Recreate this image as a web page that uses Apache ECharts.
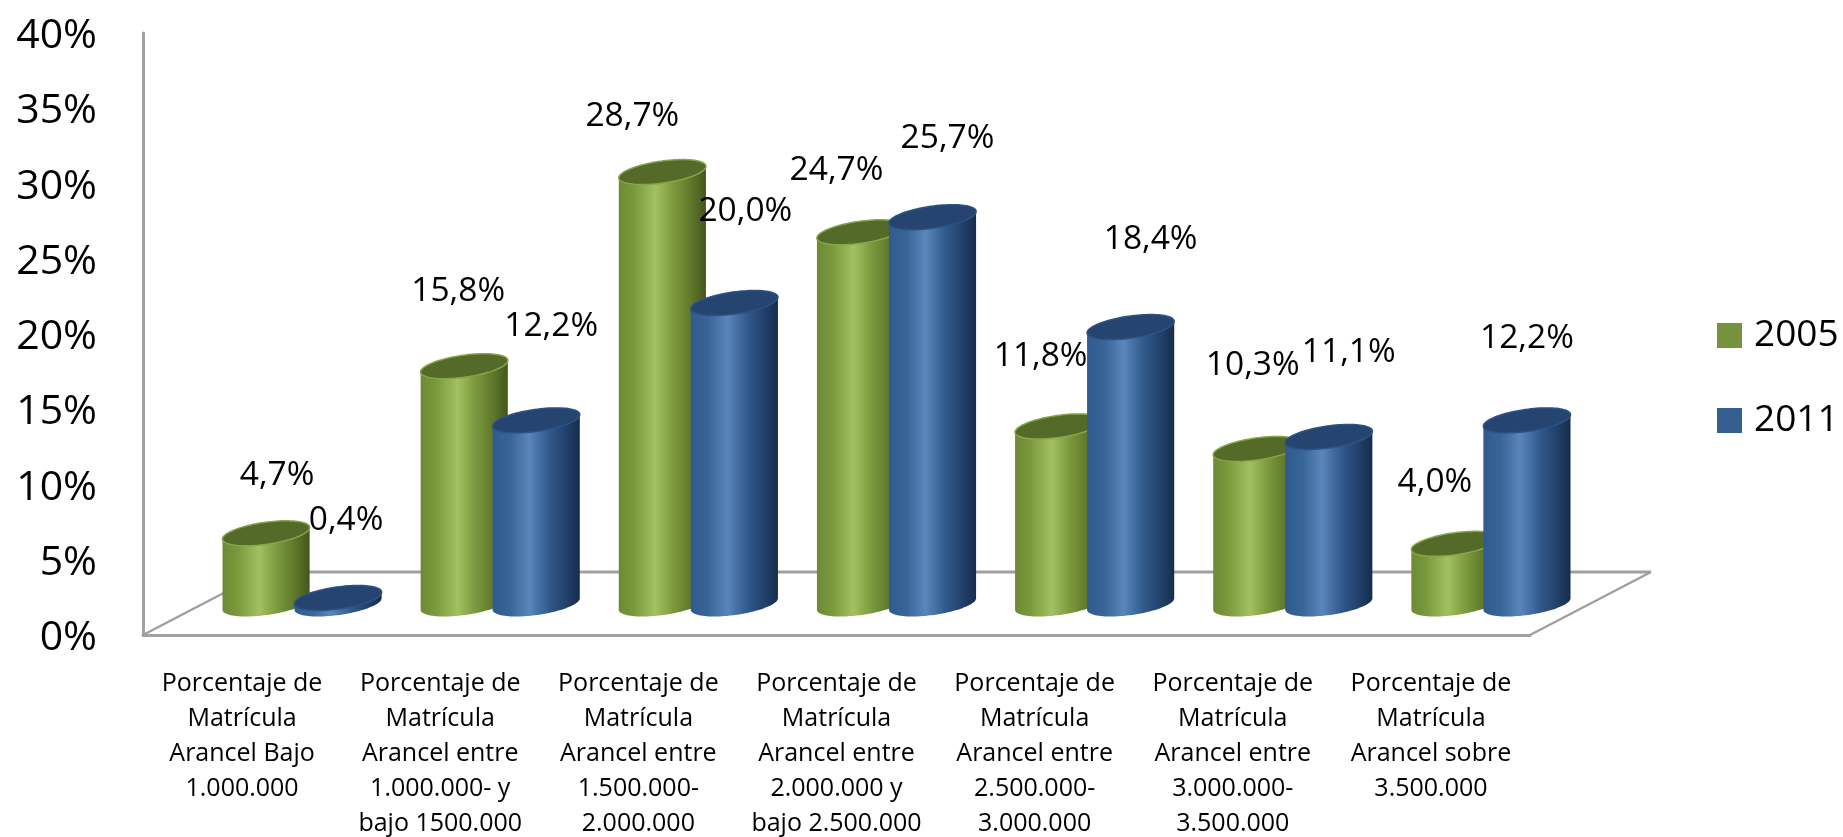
<!DOCTYPE html>
<html>
<head>
<meta charset="utf-8">
<style>html,body{margin:0;padding:0;background:#fff}#c{width:1843px;height:837px}</style>
<script src="https://cdn.jsdelivr.net/npm/echarts@6/dist/echarts.min.js"></script>
</head>
<body>
<div id="c"></div>
<script>
const categories = [
  "Porcentaje de\nMatrícula\nArancel Bajo\n1.000.000",
  "Porcentaje de\nMatrícula\nArancel entre\n1.000.000- y\nbajo 1500.000",
  "Porcentaje de\nMatrícula\nArancel entre\n1.500.000-\n2.000.000",
  "Porcentaje de\nMatrícula\nArancel entre\n2.000.000 y\nbajo 2.500.000",
  "Porcentaje de\nMatrícula\nArancel entre\n2.500.000-\n3.000.000",
  "Porcentaje de\nMatrícula\nArancel entre\n3.000.000-\n3.500.000",
  "Porcentaje de\nMatrícula\nArancel sobre\n3.500.000"
];
const values2005 = [4.7, 15.8, 28.7, 24.7, 11.8, 10.3, 4.0];
const values2011 = [0.4, 12.2, 20.0, 25.7, 18.4, 11.1, 12.2];
const labels2005 = ["4,7%", "15,8%", "28,7%", "24,7%", "11,8%", "10,3%", "4,0%"];
const labels2011 = ["0,4%", "12,2%", "20,0%", "25,7%", "18,4%", "11,1%", "12,2%"];

// Hand-placed data label offsets from the top of each cylinder, as in the source chart
const labelShift2005 = [[11,-60],[-6,-77],[-30,-58],[-24,-64],[-18,-72],[-4,-86],[-20,-64]];
const labelShift2011 = [[8,-80],[15,-96],[11,-94],[15,-81],[20,-90],[20,-87],[0,-84]];

const FONT = '"Open Sans", sans-serif';
const DEPTH_Y = 31, RX = 44, RY = 11, TILT = -0.14;
const grad = s => new echarts.graphic.LinearGradient(0, 0, 1, 0, s.map(([offset, color]) => ({offset, color})));

const styles = {
  green: {
    flat: '#76923c', shift: 24, top: '#546a28', rim: '#86a548',
    body: [[0,'#6d8a34'],[0.18,'#7a9a3d'],[0.42,'#a2c160'],[0.62,'#7c9b3e'],[0.85,'#5c7429'],[1,'#43561c']]
  },
  blue: {
    flat: '#365f91', shift: 96, top: '#254570', rim: '#2d5283',
    body: [[0,'#2f5b90'],[0.2,'#386496'],[0.42,'#5a86bc'],[0.65,'#31598b'],[0.85,'#21406a'],[1,'#172c4a']]
  }
};

function ellipse(cx, cy) {
  const pts = [];
  for (let i = 0; i < 96; i++) {
    const t = i / 96 * Math.PI * 2;
    const a = RX * Math.cos(t), b = RY * Math.sin(t);
    pts.push([cx + a * Math.cos(TILT) - b * Math.sin(TILT), cy + a * Math.sin(TILT) + b * Math.cos(TILT)]);
  }
  return pts;
}
function extremes(pts) {
  let l = 0, r = 0;
  pts.forEach((p, i) => { if (p[0] < pts[l][0]) l = i; if (p[0] > pts[r][0]) r = i; });
  return [l, r];
}

function cylinder(st, texts, shifts) {
  return function (params, api) {
    const idx = api.value(0), val = api.value(1);
    const base = api.coord([idx, 0]), head = api.coord([idx, val]);
    const cx = base[0] + st.shift;
    const by = base[1] - DEPTH_Y, ty = head[1] - DEPTH_Y;
    const bottom = ellipse(cx, by), top = ellipse(cx, ty);
    const [bl, br] = extremes(bottom);
    const [tl, tr] = extremes(top);
    const body = [top[tr], top[tl]];
    // walk the lower half of the base ellipse, from its left end back to its right end
    const n = bottom.length;
    for (let i = bl; i !== br; i = (i - 1 + n) % n) body.push(bottom[i]);
    body.push(bottom[br]);
    const [sx, sy] = shifts[params.dataIndex];
    return {
      type: 'group',
      children: [
        {type: 'polygon', shape: {points: body}, style: {fill: grad(st.body)}},
        {type: 'polygon', shape: {points: top}, style: {fill: st.top, stroke: st.rim, lineWidth: 1.5}},
        {type: 'text', z2: 100, style: {
          text: texts[params.dataIndex], x: cx + sx, y: ty + sy + 2.5,
          align: 'center', verticalAlign: 'middle',
          font: '33.5px ' + FONT, fill: '#000'
        }}
      ]
    };
  };
}

function floor(params, api) {
  const g = params.coordSys;
  const fx = g.x, fy = g.y + g.height, rx = g.x + g.width;
  const dx = 121, dy = 63;
  const line = (a, b, w) => ({type: 'line', shape: {x1: a[0], y1: a[1], x2: b[0], y2: b[1]},
    style: {stroke: '#a0a0a0', lineWidth: w}});
  return {type: 'group', children: [
    line([fx, fy], [fx + dx, fy - dy], 2.5),
    line([fx + dx, fy - dy], [rx + dx, fy - dy], 3),
    line([rx, fy], [rx + dx, fy - dy], 2.5)
  ]};
}

const chart = echarts.init(document.getElementById('c'), null, {renderer: 'canvas'});
chart.setOption({
  animation: false,
  backgroundColor: '#fff',
  grid: {left: 143, right: 313, top: 33, bottom: 202, containLabel: false, outerBoundsMode: 'none'},
  legend: {
    data: ['2005', '2011'], orient: 'vertical', left: 1712, top: 312,
    icon: 'rect', itemWidth: 25, itemHeight: 25, itemGap: 48, selectedMode: false,
    textStyle: {fontFamily: FONT, fontSize: 37, color: '#000', lineHeight: 36, padding: [0, 0, 0, 7]}
  },
  xAxis: {
    type: 'category', data: categories,
    axisLine: {show: true, lineStyle: {color: '#a0a0a0', width: 3}},
    axisTick: {show: false},
    axisLabel: {interval: 0, margin: 31, fontFamily: FONT, fontSize: 25, lineHeight: 35, color: '#000'}
  },
  yAxis: {
    type: 'value', min: 0, max: 40, interval: 5,
    axisLine: {show: true, lineStyle: {color: '#a0a0a0', width: 3}},
    axisTick: {show: false},
    splitLine: {show: false},
    axisLabel: {formatter: '{value}%', margin: 46, fontFamily: FONT, fontSize: 41, color: '#000', verticalAlign: 'top', lineHeight: 7}
  },
  series: [
    {type: 'custom', name: 'floor', coordinateSystem: 'cartesian2d', silent: true, z: 1,
     data: [[0, 0]], renderItem: floor, encode: {x: 0, y: 1}},
    {type: 'custom', name: '2005', coordinateSystem: 'cartesian2d', z: 2,
     itemStyle: {color: styles.green.flat},
     data: values2005.map((v, i) => [i, v]), encode: {x: 0, y: 1},
     renderItem: cylinder(styles.green, labels2005, labelShift2005)},
    {type: 'custom', name: '2011', coordinateSystem: 'cartesian2d', z: 3,
     itemStyle: {color: styles.blue.flat},
     data: values2011.map((v, i) => [i, v]), encode: {x: 0, y: 1},
     renderItem: cylinder(styles.blue, labels2011, labelShift2011)}
  ]
});
</script>
</body>
</html>
